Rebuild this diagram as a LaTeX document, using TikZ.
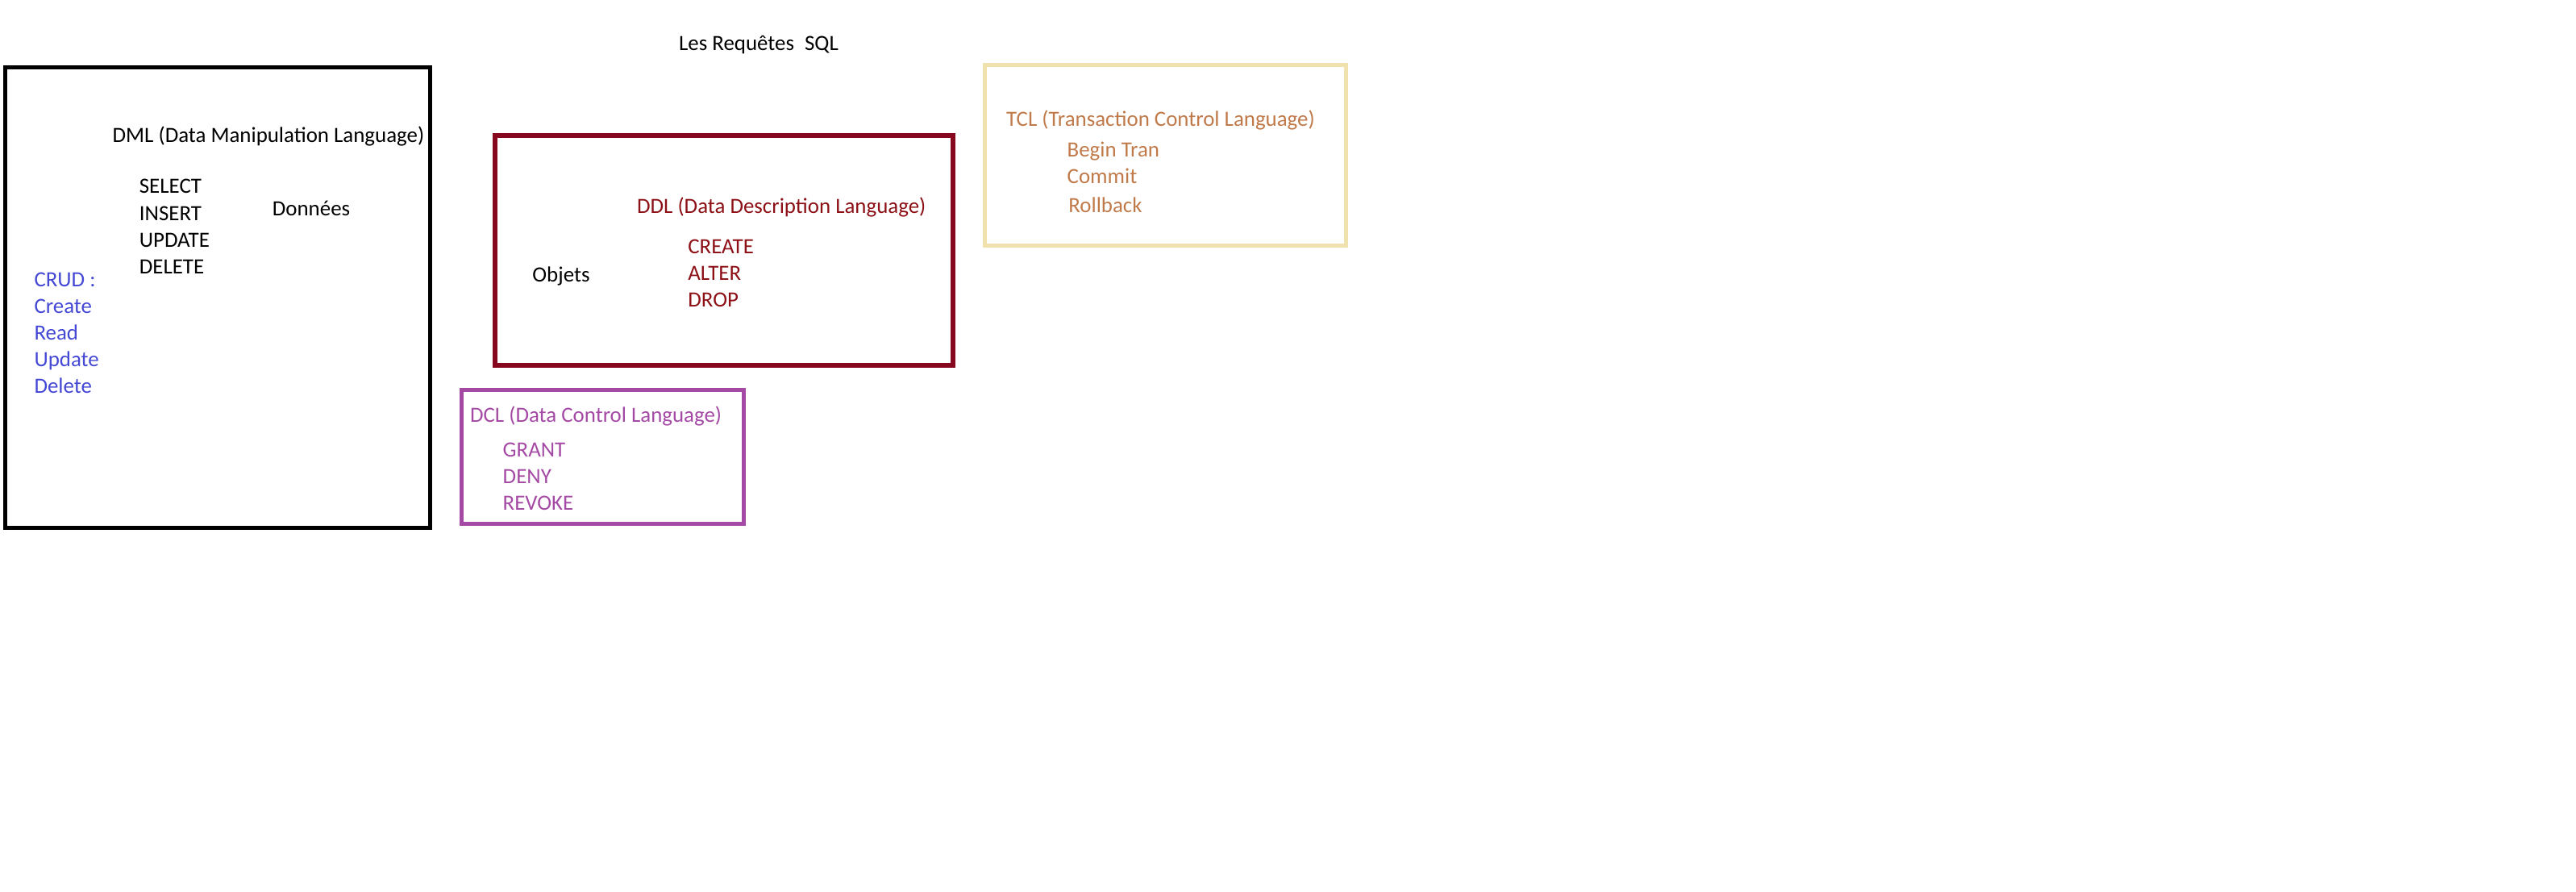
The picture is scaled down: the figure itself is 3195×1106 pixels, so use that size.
\documentclass[tikz,border=0pt]{standalone}
\usepackage{fontspec}
\setmainfont{Carlito}
\usetikzlibrary{positioning}

\definecolor{crudblue}{RGB}{68,72,212}
\definecolor{ddlred}{RGB}{135,8,30}
\definecolor{ddltext}{RGB}{140,16,22}
\definecolor{tclbox}{RGB}{239,226,172}
\definecolor{tcltext}{RGB}{192,122,74}
\definecolor{dclpurple}{RGB}{164,74,164}

\tikzset{
  lbl/.style={anchor=base west, inner sep=0pt, font=\fontsize{13.45}{16}\selectfont},
  frame/.style={line width=2.5pt}
}

\begin{document}
\begin{tikzpicture}[x=0.5pt,y=-0.5pt]
\useasboundingbox (0,0) rectangle (3195,1106);

% Title
\node[lbl] (req) at (841.7,62.7) {Les Requêtes};
\node[lbl] (sql) at (997.7,62.7) {SQL};

% DML box
\draw[frame, black] (6.6,84) rectangle (533,654.5);
\node[lbl] (dml) at (139.3,176.6) {DML (Data Manipulation Language)};
\foreach \t [count=\i] in {SELECT,INSERT,UPDATE,DELETE} {
    \node[lbl] (dml\i) at (172.5,{240+33.2*(\i-1)}) {\t};
}
\node[lbl] (donnees) at (337.5,267.6) {Données};
\foreach \t [count=\i] in {CRUD :,Create,Read,Update,Delete} {
    \node[lbl, text=crudblue] (crud\i) at (42.1,{355.8+33*(\i-1)}) {\t};
}

% DDL box
\draw[frame, line width=3pt, ddlred] (614,168) rectangle (1182,453.5);
\node[lbl, text=ddltext] (ddl) at (789.7,265) {DDL (Data Description Language)};
\foreach \t [count=\i] in {CREATE,ALTER,DROP} {
    \node[lbl, text=ddltext] (ddl\i) at (853,{315+33*(\i-1)}) {\t};
}
\node[lbl] (objets) at (660,349.3) {Objets};

% TCL box
\draw[frame, tclbox] (1221,81) rectangle (1669,305);
\node[lbl, text=tcltext] (tcl) at (1247.7,156.7) {TCL (Transaction Control Language)};
\node[lbl, text=tcltext] (tcl1) at (1323.3,195) {Begin Tran};
\node[lbl, text=tcltext] (tcl2) at (1323.3,227.7) {Commit};
\node[lbl, text=tcltext] (tcl3) at (1325,264) {Rollback};

% DCL box
\draw[frame, dclpurple] (572,484) rectangle (922,649);
\node[lbl, text=dclpurple] (dcl) at (582.7,523.3) {DCL (Data Control Language)};
\foreach \t [count=\i] in {GRANT,DENY,REVOKE} {
    \node[lbl, text=dclpurple] (dcl\i) at (623.3,{566.7+33*(\i-1)}) {\t};
}
\end{tikzpicture}
\end{document}
